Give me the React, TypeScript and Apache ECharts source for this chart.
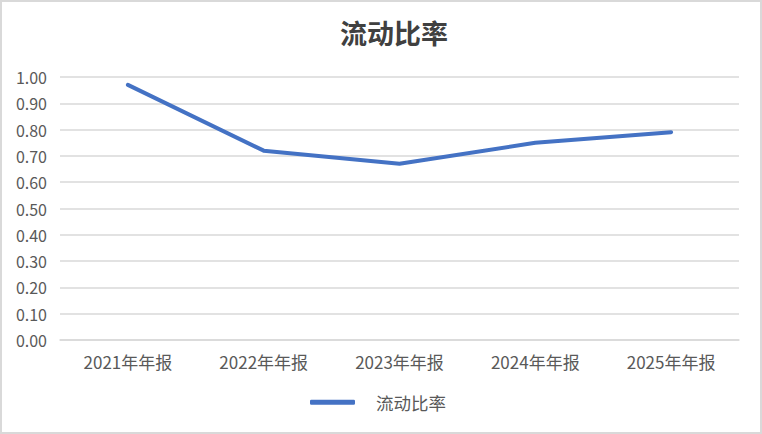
import React, { useEffect, useRef } from "react";
import * as echarts from "echarts";

const title = "流动比率";
const categories = ["2021年年报", "2022年年报", "2023年年报", "2024年年报", "2025年年报"];
const seriesName = "流动比率";
const values = [0.97, 0.72, 0.67, 0.75, 0.79];

export default function App() {
  const ref = useRef<HTMLDivElement>(null);
  useEffect(() => {
    document.body.style.margin = "0";
    const chart = echarts.init(ref.current!, null, { renderer: "svg" });
    const font = "'Noto Sans CJK SC', 'Noto Sans', sans-serif";
    chart.setOption({
      animation: false,
      backgroundColor: "#ffffff",
      graphic: [
        {
          type: "rect",
          shape: { x: 1, y: 1, width: 760, height: 432 },
          style: { fill: "none", stroke: "#d9d9d9", lineWidth: 2 },
          silent: true,
        },
      ],
      title: {
        text: title,
        left: 335,
        top: 14,
        textStyle: { fontFamily: font, fontSize: 27, fontWeight: "bold", color: "#404040" },
      },
      grid: { left: 60, right: 23, top: 77, bottom: 94 },
      legend: {
        bottom: 18,
        left: 305,
        itemWidth: 45,
        itemHeight: 5,
        data: [{ name: seriesName, icon: "roundRect" }],
        itemStyle: { color: "#4472C4" },
        textStyle: { fontFamily: font, fontSize: 17.5, color: "#595959", padding: [0, 0, 0, 16] },
      },
      xAxis: {
        type: "category",
        data: categories,
        boundaryGap: true,
        axisLine: { lineStyle: { color: "#d9d9d9", width: 1.5 } },
        axisTick: { show: false },
        axisLabel: { fontFamily: font, fontSize: 17, color: "#595959", margin: 13 },
      },
      yAxis: {
        type: "value",
        min: 0,
        max: 1,
        interval: 0.1,
        axisLine: { show: false },
        axisTick: { show: false },
        splitLine: { lineStyle: { color: "#d9d9d9", width: 1.5 } },
        axisLabel: {
          fontFamily: font,
          fontSize: 16,
          color: "#595959",
          margin: 13,
          formatter: (v: number) => v.toFixed(2),
        },
      },
      series: [
        {
          name: seriesName,
          type: "line",
          data: values,
          symbol: "none",
          lineStyle: { color: "#4472C4", width: 4, cap: "round", join: "round" },
          itemStyle: { color: "#4472C4" },
        },
      ],
    });
    return () => chart.dispose();
  }, []);
  return <div ref={ref} style={{ width: 762, height: 434 }} />;
}
